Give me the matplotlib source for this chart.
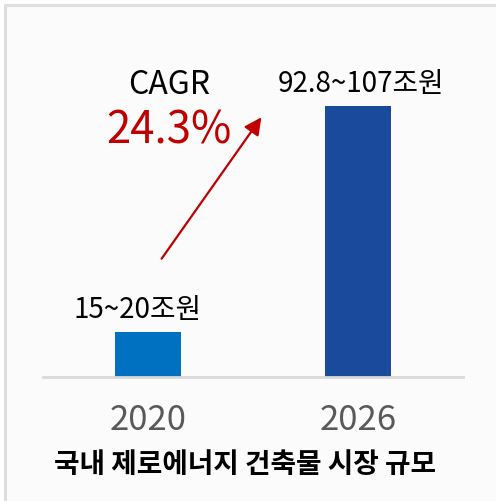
import matplotlib
matplotlib.use("Agg")
import matplotlib.pyplot as plt
from matplotlib.patches import Rectangle, FancyArrowPatch

categories = ["2020", "2026"]
values = [17.5, 105]
value_labels = ["15~20조원", "92.8~107조원"]
bar_colors = ["#0070c0", "#1a4a9c"]
title = "국내 제로에너지 건축물 시장 규모"
cagr_label = "CAGR"
cagr_value = "24.3%"

plt.rcParams['font.family'] = ['Noto Sans CJK KR', 'DejaVu Sans']

W, H = 496, 501
fig = plt.figure(figsize=(W / 100, H / 100), dpi=100)
fig.patch.set_facecolor("white")

# panel background with border on top/left
fig.patches.append(Rectangle((5 / W, -0.1), 1.2, 1 - 5 / H + 0.1, transform=fig.transFigure,
                             facecolor="#fbfbfb", edgecolor="#dedede", linewidth=2.2, zorder=-5))

ax_left, ax_right = 43, 463
ax_bottom, ax_top = 377, 60
ax = fig.add_axes([ax_left / W, 1 - ax_bottom / H, (ax_right - ax_left) / W, (ax_bottom - ax_top) / H])
ax.set_facecolor("none")
ax.set_zorder(2)

x = list(range(len(categories)))
ax.bar(x, values, width=0.314, color=bar_colors, zorder=2)
ax.set_xlim(-0.5, 1.5)
ax.set_ylim(0, 105 * 317 / 271)

for s in ["top", "right", "left"]:
    ax.spines[s].set_visible(False)
ax.spines["bottom"].set_color("#d9d9d9")
ax.spines["bottom"].set_linewidth(2)
ax.set_yticks([])
ax.set_xticks(x)
ax.set_xticklabels(categories, fontsize=25, color="#595959")
ax.tick_params(axis="x", length=0, pad=19)

# value labels
offsets = [-0.05, 0.015]
for xi, v, lab, off in zip(x, values, value_labels, offsets):
    ax.annotate(lab, (xi + off, v), xytext=(0, 5), textcoords="offset points",
                ha="center", va="bottom", fontsize=20, color="black")

# CAGR annotation
fig.text(169 / W, 1 - 85 / H, cagr_label, ha="center", va="center", fontsize=23, color="black")
fig.text(169 / W, 1 - 130 / H, cagr_value, ha="center", va="center", fontsize=31.5, color="#c00000")

arrow = FancyArrowPatch((160 / W, 1 - 261 / H), (263 / W, 1 - 115 / H), transform=fig.transFigure,
                        arrowstyle="-|>,head_length=8,head_width=4", color="#c00000",
                        linewidth=1.6, mutation_scale=1.3)
fig.patches.append(arrow)

fig.text(245 / W, 1 - 465 / H, title, ha="center", va="center", fontsize=20,
         fontweight="black", color="black")

fig.savefig("out.png", dpi=100)
